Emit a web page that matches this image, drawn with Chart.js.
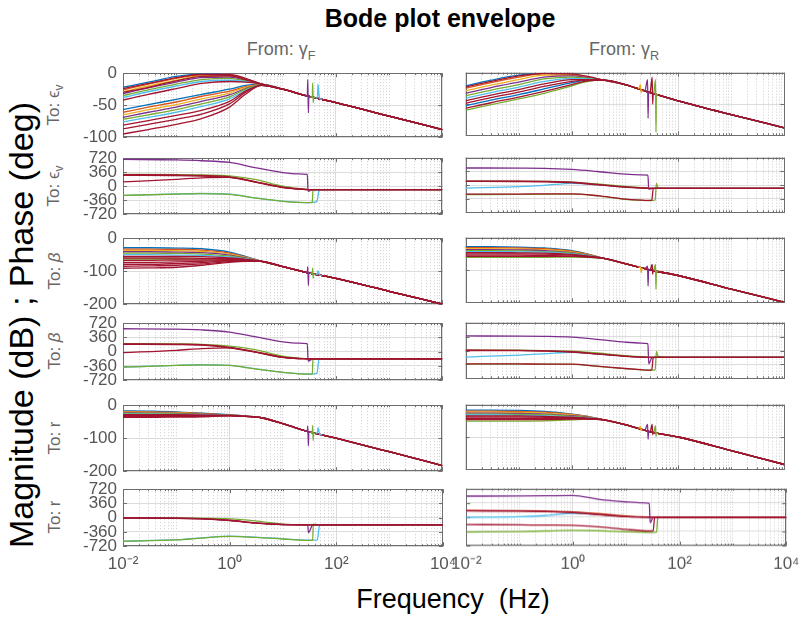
<!DOCTYPE html>
<html>
<head>
<meta charset="utf-8">
<script src="https://cdn.jsdelivr.net/npm/chart.js@4.4.1/dist/chart.umd.min.js"></script>
<style>
  body { margin: 0; width: 804px; height: 624px; position: relative; overflow: hidden; background: #fff;
         font-family: "Liberation Sans", Arial, sans-serif; }
  canvas { position: absolute; }
  .txt { position: absolute; white-space: nowrap; }
  .rot { transform: translate(-50%, -50%) rotate(-90deg); }
  .title { left: 240px; width: 400px; top: 4px; text-align: center; font-weight: bold; font-size: 25px; color: #000; }
  .from { top: 39px; width: 200px; text-align: center; font-size: 18px; color: #666; }
  .to { font-size: 17px; color: #666; }
  sub { font-size: 70%; }
</style>
</head>
<body>
<div class="txt title">Bode plot envelope</div>
<div class="txt from" style="left:181px">From: γ<sub>F</sub></div>
<div class="txt from" style="left:524px">From: γ<sub>R</sub></div>
<div class="txt rot" style="left:21px; top:325px; font-size:34px; color:#000">Magnitude (dB) ; Phase (deg)</div>
<div class="txt" style="left:253px; width:400px; text-align:center; top:584px; font-size:27px; color:#000">Frequency&nbsp;&nbsp;(Hz)</div>
<div class="txt to rot" style="left:55px; top:105px">To: ϵ<sub>v</sub></div>
<div class="txt to rot" style="left:55px; top:186px">To: ϵ<sub>v</sub></div>
<div class="txt to rot" style="left:55px; top:271px">To: <i>β</i></div>
<div class="txt to rot" style="left:55px; top:351px">To: <i>β</i></div>
<div class="txt to rot" style="left:55px; top:438px">To: r</div>
<div class="txt to rot" style="left:55px; top:517px">To: r</div>

<script>
// MATLAB line colours
const colors = { b: '#0072BD', o: '#D95319', y: '#EDB120', p: '#7E2F8E', g: '#77AC30', c: '#4DBEEE', r: '#A2142F' };

// frequency grids (Hz)
const magFreqs = [0.01, 0.03, 0.1, 0.3, 1, 2, 4];
const magTailFreqs = [10, 30, 100, 1000, 10000];
const phaseFreqsF = [0.01, 0.1, 0.3, 1, 3, 10, 20, 29, 30, 36, 37, 44, 48, 52, 100, 10000];
const phaseFreqsR = [0.01, 0.1, 0.3, 1, 3, 10, 20, 27, 28, 32, 34, 37, 39, 42, 100, 10000];
const spikeFreqsF = [[26, 29, 29.6, 30.4, 31, 34], [33, 36, 36.6, 37.4, 38, 41], [42, 45, 46, 47.5, 50, 55]];
const spikeFreqsR = [[18, 19.6, 20.2, 21], [24, 26.6, 27.2, 27.8, 30], [30, 32.5, 33.2, 34, 36], [35, 37.5, 38.3, 39, 42]];
const spikeColorsF = ['p', 'g', 'c'];
const spikeColorsR = ['y', 'p', 'r', 'g'];

// axis ticks
const freqLabelTicks = [0.01, 1, 100, 10000];
const freqTickLabels = ['10⁻²', '10⁰', '10²', '10⁴'];
const magTicksEv = [-100, -50, 0];
const magTicks = [-200, -100, 0];
const phaseTicks = [-720, -360, 0, 360, 720];

// ---- To: eps_v ----
const magEvFColors = ['b', 'o', 'y', 'p', 'g', 'c', 'b', 'o', 'y', 'p', 'g', 'c', 'r', 'r', 'r', 'r', 'r', 'r'];
const magEvF = [
  [-22, -14, -5, -1, -3, -9, -17],
  [-26, -17, -8, -2, -3, -9, -17],
  [-29, -20, -11, -4, -4, -10, -17],
  [-32, -23, -14, -7, -6, -11, -17],
  [-35, -26, -17, -10, -8, -12, -17],
  [-38, -29, -20, -13, -11, -13, -17],
  [-57, -49, -41, -33, -25, -19, -17],
  [-61, -53, -45, -36, -28, -21, -18],
  [-65, -57, -49, -40, -31, -22, -18],
  [-69, -61, -53, -44, -34, -24, -18],
  [-72, -65, -57, -48, -37, -25, -18],
  [-76, -69, -61, -52, -40, -27, -19],
  [-24, -16, -7, -2, -2, -8, -17],
  [-30, -22, -12, -5, -4, -10, -17],
  [-42, -33, -24, -16, -13, -14, -17],
  [-81, -74, -66, -58, -44, -28, -19],
  [-87, -80, -72, -64, -48, -30, -19],
  [-95, -88, -80, -71, -53, -33, -19]
];
const magEvFTail = [-25, -36, -46, -67, -88];
const magEvFSpikes = [
  [-35, -36, -10, -62, -36, -37],
  [-37, -37.5, -15, -46, -38, -38.6],
  [-38.8, -37, -17, -30, -40, -41]
];

const magEvRColors = ['b', 'o', 'y', 'p', 'g', 'c', 'b', 'g', 'r', 'r', 'r', 'r'];
const magEvR = [
  [-21, -12, -4, -1, -3, -7, -12],
  [-25, -16, -7, -2, -3, -7, -12],
  [-29, -20, -11, -4, -4, -8, -12],
  [-33, -24, -15, -7, -5, -8, -12],
  [-37, -28, -19, -10, -7, -9, -12],
  [-41, -32, -23, -14, -9, -10, -12],
  [-53, -44, -35, -26, -16, -12, -12],
  [-60, -51, -42, -33, -21, -14, -12],
  [-23, -14, -5, -1, -2, -6, -12],
  [-45, -36, -27, -18, -11, -11, -12],
  [-49, -40, -31, -22, -14, -12, -12],
  [-57, -48, -39, -30, -19, -13, -12]
];
const magEvRTail = [-19, -32, -45, -67, -88];
const magEvRSpikes = [
  [-26, -19, -32, -28],
  [-29.5, -11, -73, -31, -32],
  [-32, -7, -50, -33.3, -34],
  [-33.7, -11, -95, -35, -35.7]
];

const phEvFColors = ['c', 'g', 'p', 'g', 'r', 'r', 'r'];
const phEvF = [
  [-235, -200, -188, -205, -300, -385, -415, -420, -420, -418, -415, -390, -120, -95, -90, -90],
  [-238, -203, -190, -208, -302, -388, -418, -422, -422, -420, -100, -92, -90, -90, -90, -90],
  [690, 675, 655, 610, 480, 350, 315, 305, -130, -92, -90, -90, -90, -90, -90, -90],
  [305, 298, 288, 265, 175, 0, -60, -82, -86, -90, -90, -90, -90, -90, -90, -90],
  [110, 175, 215, 226, 112, -28, -72, -86, -88, -90, -90, -90, -90, -90, -90, -90],
  [280, 272, 258, 228, 105, -35, -75, -87, -89, -90, -90, -90, -90, -90, -90, -90],
  [300, 290, 275, 240, 120, -25, -70, -85, -88, -90, -90, -90, -90, -90, -90, -90]
];

const phEvRColors = ['c', 'g', 'p', 'g', 'r', 'r', 'r'];
const phEvR = [
  [-80, -45, -10, 45, 10, -52, -76, -86, -88, -90, -90, -90, -90, -90, -90, -90],
  [-250, -248, -245, -240, -285, -375, -402, -410, -410, -408, -405, -395, 45, -80, -90, -90],
  [448, 445, 440, 410, 355, 285, 268, 262, -110, -92, -90, -90, -90, -90, -90, -90],
  [100, 98, 94, 78, 30, -40, -72, -84, -86, -90, -90, -90, -90, -90, -90, -90],
  [-240, -238, -235, -232, -280, -370, -398, -405, -405, -400, -95, -90, -90, -90, -90, -90],
  [95, 92, 86, 62, 5, -58, -78, -86, -88, -90, -90, -90, -90, -90, -90, -90],
  [104, 100, 95, 72, 15, -50, -75, -85, -87, -90, -90, -90, -90, -90, -90, -90]
];

// ---- To: beta ----
const magBetaFColors = ['b', 'o', 'y', 'p', 'g', 'c', 'g', 'r', 'r', 'r', 'r', 'r', 'r', 'r'];
const magBetaF = [
  [-29, -29, -30, -32, -42, -55, -70],
  [-33, -33, -34, -36, -45, -57, -70],
  [-37, -37, -38, -40, -48, -58, -70],
  [-41, -41, -42, -44, -51, -60, -70],
  [-45, -45, -46, -48, -54, -62, -70],
  [-50, -50, -51, -52, -57, -63, -70],
  [-63, -63, -63, -63, -63, -66, -70],
  [-55, -55, -55, -56, -60, -64, -70],
  [-60, -60, -60, -61, -62, -65, -70],
  [-67, -67, -66, -66, -65, -67, -70],
  [-73, -73, -72, -70, -67, -68, -70],
  [-79, -79, -77, -74, -69, -69, -70],
  [-85, -84, -82, -78, -71, -69, -70],
  [-91, -90, -88, -82, -73, -70, -70]
];
const magBetaFTail = [-86, -105, -122, -161, -200];
const magBetaFSpikes = [
  [-103, -104.5, -86, -143, -105.5, -107],
  [-106.3, -107.6, -91, -122, -108.3, -109.4],
  [-109.8, -110, -98, -104, -112.2, -113.5]
];

const magBetaRColors = ['b', 'o', 'y', 'p', 'g', 'c', 'g', 'r', 'r', 'r', 'r'];
const magBetaR = [
  [-28, -28, -29, -32, -40, -51, -64],
  [-31, -31, -32, -34, -42, -52, -64],
  [-34, -34, -35, -37, -44, -53, -64],
  [-37, -37, -38, -40, -46, -54, -64],
  [-40, -40, -41, -43, -48, -55, -64],
  [-43, -43, -44, -45, -50, -56, -64],
  [-61, -61, -61, -61, -60, -61, -64],
  [-46, -46, -47, -48, -52, -57, -64],
  [-50, -50, -50, -51, -54, -58, -64],
  [-54, -54, -54, -55, -57, -59, -64],
  [-58, -58, -58, -58, -58, -60, -64]
];
const magBetaRTail = [-80, -100, -117, -159, -200];
const magBetaRSpikes = [
  [-90.7, -93, -108, -93.5],
  [-96, -88, -150, -98.8, -100],
  [-100, -83, -113, -101.8, -102.6],
  [-102.2, -83, -160, -103.7, -104.7]
];

const phBetaFColors = ['c', 'g', 'p', 'g', 'r', 'r', 'r'];
const phBetaF = [
  [-390, -345, -330, -345, -430, -520, -555, -563, -563, -562, -560, -540, -200, -182, -180, -180],
  [-392, -347, -332, -348, -433, -523, -558, -566, -566, -565, -200, -182, -180, -180, -180, -180],
  [580, 570, 550, 495, 380, 250, 215, 205, -235, -185, -180, -180, -180, -180, -180, -180],
  [205, 197, 186, 140, 50, -115, -165, -177, -178, -180, -180, -180, -180, -180, -180, -180],
  [-25, 35, 80, 98, -5, -142, -173, -178, -179, -180, -180, -180, -180, -180, -180, -180],
  [185, 178, 165, 100, -10, -145, -174, -179, -180, -180, -180, -180, -180, -180, -180, -180],
  [200, 190, 175, 110, 0, -140, -172, -178, -179, -180, -180, -180, -180, -180, -180, -180]
];

const phBetaRColors = ['c', 'g', 'p', 'g', 'r', 'r', 'r'];
const phBetaR = [
  [-170, -120, -85, -45, -85, -145, -170, -176, -178, -180, -180, -180, -180, -180, -180, -180],
  [-350, -352, -355, -358, -410, -470, -500, -510, -510, -508, -505, -500, -25, -150, -180, -180],
  [376, 372, 365, 344, 290, 215, 192, 178, -345, -190, -180, -180, -180, -180, -180, -180],
  [10, 6, -2, -20, -65, -135, -165, -175, -178, -180, -180, -180, -180, -180, -180, -180],
  [-345, -348, -350, -352, -405, -465, -495, -505, -505, -500, -190, -180, -180, -180, -180, -180],
  [0, -5, -15, -40, -92, -150, -172, -177, -179, -180, -180, -180, -180, -180, -180, -180],
  [8, 2, -8, -32, -85, -145, -170, -176, -178, -180, -180, -180, -180, -180, -180, -180]
];

// ---- To: r ----
const magRFColors = ['b', 'o', 'y', 'p', 'g', 'c', 'r', 'r', 'r', 'r'];
const magRF = [
  [-17, -18, -20, -24, -29, -33, -38],
  [-19, -20, -22, -25, -30, -33, -38],
  [-21, -22, -23, -26, -30, -33, -38],
  [-23, -24, -25, -27, -30, -33, -38],
  [-25, -25, -26, -28, -30, -33, -38],
  [-27, -27, -28, -29, -31, -34, -38],
  [-29, -29, -29, -30, -31, -34, -38],
  [-31, -31, -31, -31, -31, -34, -38],
  [-34, -34, -34, -33, -32, -34, -38],
  [-37, -37, -36, -35, -32, -34, -38]
];
const magRFTail = [-56, -80, -100, -141, -183];
const magRFSpikes = [
  [-78, -79.4, -63, -123, -80.5, -82],
  [-81.6, -83, -62, -107, -84, -85.2],
  [-85.6, -82, -68, -76, -88.4, -90]
];

const magRRColors = ['b', 'o', 'y', 'p', 'g', 'c', 'g', 'r', 'r', 'r', 'r'];
const magRR = [
  [-17, -17, -18, -21, -29, -36, -47],
  [-20, -20, -21, -23, -30, -37, -47],
  [-23, -23, -24, -26, -32, -38, -47],
  [-26, -26, -27, -29, -34, -39, -47],
  [-29, -29, -30, -31, -36, -40, -47],
  [-32, -32, -33, -34, -38, -41, -47],
  [-51, -51, -51, -50, -47, -45, -47],
  [-35, -35, -35, -36, -39, -42, -47],
  [-38, -38, -38, -39, -41, -43, -47],
  [-42, -42, -42, -42, -43, -44, -47],
  [-46, -46, -46, -46, -45, -45, -47]
];
const magRRTail = [-62, -84, -100, -142, -185];
const magRRSpikes = [
  [-73.7, -68, -80, -77],
  [-79.5, -61, -107, -82.5, -84],
  [-84, -61, -93, -85.7, -86.4],
  [-86, -66, -98, -87.5, -88.5]
];

const phRFColors = ['c', 'g', 'g', 'p', 'r', 'r'];
const phRF = [
  [-593, -555, -510, -466, -490, -534, -560, -570, -570, -570, -568, -560, -220, -185, -180, -180],
  [-596, -560, -515, -470, -495, -538, -563, -572, -572, -572, -165, -176, -180, -180, -180, -180],
  [-2, -4, -9, -30, -80, -160, -176, -179, -180, -180, -180, -180, -180, -180, -180, -180],
  [-6, -13, -28, -68, -133, -173, -178, -180, -380, -182, -180, -180, -180, -180, -180, -180],
  [-8, -15, -30, -72, -138, -175, -179, -180, -180, -180, -180, -180, -180, -180, -180, -180],
  [-5, -12, -25, -65, -130, -172, -178, -180, -180, -180, -180, -180, -180, -180, -180, -180]
];

const phRRColors = ['c', 'g', 'p', 'o', 'r', 'r', 'r'];
const phRR = [
  [-5, 10, 40, 95, 68, 16, 3, 0, 0, 0, 0, 0, 0, 0, 0, 0],
  [-376, -365, -350, -335, -343, -368, -380, -385, -385, -385, -383, -380, 20, 0, 0, 0],
  [532, 535, 540, 548, 450, 385, 362, 352, -140, -5, 0, 0, 0, 0, 0, 0],
  [168, 164, 155, 135, 95, 30, 8, 2, 0, 0, 0, 0, 0, 0, 0, 0],
  [-188, -195, -200, -205, -245, -310, -343, -350, -350, -345, 0, 0, 0, 0, 0, 0],
  [158, 150, 140, 115, 65, 12, 2, 0, 0, 0, 0, 0, 0, 0, 0, 0],
  [164, 158, 148, 123, 72, 18, 4, 1, 0, 0, 0, 0, 0, 0, 0, 0]
];

// plot areas of the 6x2 grid
const colLeft = [123, 466];
const plotWidth = 320;
const rowTop = [73, 158, 238, 323, 405, 489];
const rowHeight = [64, 56, 66, 57, 66, 57];

function curve(fs, vs, col, order) {
  return {
    data: fs.map((f, i) => ({ x: f, y: vs[i] })),
    borderColor: colors[col],
    borderWidth: 1.3,
    pointRadius: 0,
    cubicInterpolationMode: 'monotone',
    order: order
  };
}

function magSets(rows, cols, tail, spikes, spikeFs, spikeCols) {
  const sets = rows.map((r, i) => curve(magFreqs.concat(magTailFreqs), r.concat(tail), cols[i], -i));
  spikes.forEach((s, i) => sets.push(curve(spikeFs[i], s, spikeCols[i], -100 - i)));
  return sets;
}

function phaseSets(rows, cols, fs) {
  return rows.map((r, i) => curve(fs, r, cols[i], -i));
}

// log-decade grid positions: 1..9 x 10^k
const freqGrid = [];
for (let k = -2; k <= 3; k++) {
  for (let m = 1; m <= 9; m++) freqGrid.push(m * Math.pow(10, k));
}
freqGrid.push(10000);

// box with inward tick marks, drawn under the curves
const boxPlugin = {
  id: 'box',
  beforeDatasetsDraw(chart) {
    const { ctx, chartArea: a } = chart;
    const xs = chart.scales.x, ys = chart.scales.y;
    ctx.save();
    ctx.strokeStyle = '#6e6e6e';
    ctx.lineWidth = 1;
    ctx.beginPath();
    xs.ticks.forEach(t => {
      const px = Math.round(xs.getPixelForValue(t.value)) + 0.5;
      const len = t.major ? 4 : 2;
      ctx.moveTo(px, a.top); ctx.lineTo(px, a.top + len);
      ctx.moveTo(px, a.bottom); ctx.lineTo(px, a.bottom - len);
    });
    ys.ticks.forEach(t => {
      const py = Math.round(ys.getPixelForValue(t.value)) + 0.5;
      ctx.moveTo(a.left, py); ctx.lineTo(a.left + 4, py);
      ctx.moveTo(a.right, py); ctx.lineTo(a.right - 4, py);
    });
    ctx.stroke();
    ctx.strokeRect(Math.round(a.left) + 0.5, Math.round(a.top) + 0.5, Math.round(a.width) - 1, Math.round(a.height) - 1);
    ctx.restore();
  }
};

function makePanel(row, col, datasets, yMin, yMax, yTicks) {
  const canvas = document.createElement('canvas');
  canvas.width = plotWidth + 80;
  canvas.height = rowHeight[row] + 50;
  document.body.appendChild(canvas);
  const showY = col === 0;
  const showX = row === 5;
  const tickFont = { family: 'Liberation Sans', size: 17 };

  const chart = new Chart(canvas, {
    type: 'line',
    data: { datasets: datasets },
    options: {
      responsive: false,
      maintainAspectRatio: false,
      animation: false,
      events: [],
      layout: { padding: 0 },
      plugins: { legend: { display: false }, tooltip: { enabled: false } },
      scales: {
        x: {
          type: 'logarithmic',
          min: 0.01,
          max: 10000,
          afterBuildTicks: ax => {
            ax.ticks = freqGrid.map(v => ({ value: v, major: freqLabelTicks.some(f => Math.abs(f - v) < 1e-9) }));
          },
          ticks: {
            display: showX,
            autoSkip: false,
            maxRotation: 0,
            minRotation: 0,
            padding: 8,
            color: '#555',
            font: tickFont,
            callback: v => {
              const i = freqLabelTicks.findIndex(f => Math.abs(f - v) < 1e-9);
              return i >= 0 ? freqTickLabels[i] : '';
            }
          },
          grid: {
            drawTicks: false,
            color: c => (c.tick && c.tick.major) ? '#dcdcdc' : '#cdcdcd',
            lineWidth: 1
          },
          border: { display: false, dash: c => (c.tick && c.tick.major) ? [] : [1, 2] }
        },
        y: {
          min: yMin,
          max: yMax,
          afterBuildTicks: ax => { ax.ticks = yTicks.map(v => ({ value: v })); },
          ticks: { display: showY, autoSkip: false, padding: 6, color: '#555', font: tickFont },
          grid: { drawTicks: false, color: '#dcdcdc', lineWidth: 1 },
          border: { display: false }
        }
      }
    },
    plugins: [boxPlugin]
  });

  // size the canvas so its plot area lands on the grid cell
  let a = chart.chartArea;
  chart.resize(chart.width + plotWidth - (a.right - a.left), chart.height + rowHeight[row] - (a.bottom - a.top));
  a = chart.chartArea;
  canvas.style.left = (colLeft[col] - a.left) + 'px';
  canvas.style.top = (rowTop[row] - a.top) + 'px';
  return chart;
}

// row 1-2: To eps_v
makePanel(0, 0, magSets(magEvF, magEvFColors, magEvFTail, magEvFSpikes, spikeFreqsF, spikeColorsF), -100, 0, magTicksEv);
makePanel(0, 1, magSets(magEvR, magEvRColors, magEvRTail, magEvRSpikes, spikeFreqsR, spikeColorsR), -100, 0, magTicksEv);
makePanel(1, 0, phaseSets(phEvF, phEvFColors, phaseFreqsF), -720, 720, phaseTicks);
makePanel(1, 1, phaseSets(phEvR, phEvRColors, phaseFreqsR), -720, 720, phaseTicks);
// row 3-4: To beta
makePanel(2, 0, magSets(magBetaF, magBetaFColors, magBetaFTail, magBetaFSpikes, spikeFreqsF, spikeColorsF), -200, 0, magTicks);
makePanel(2, 1, magSets(magBetaR, magBetaRColors, magBetaRTail, magBetaRSpikes, spikeFreqsR, spikeColorsR), -200, 0, magTicks);
makePanel(3, 0, phaseSets(phBetaF, phBetaFColors, phaseFreqsF), -720, 720, phaseTicks);
makePanel(3, 1, phaseSets(phBetaR, phBetaRColors, phaseFreqsR), -720, 720, phaseTicks);
// row 5-6: To r
makePanel(4, 0, magSets(magRF, magRFColors, magRFTail, magRFSpikes, spikeFreqsF, spikeColorsF), -200, 0, magTicks);
makePanel(4, 1, magSets(magRR, magRRColors, magRRTail, magRRSpikes, spikeFreqsR, spikeColorsR), -200, 0, magTicks);
makePanel(5, 0, phaseSets(phRF, phRFColors, phaseFreqsF), -720, 720, phaseTicks);
makePanel(5, 1, phaseSets(phRR, phRRColors, phaseFreqsR), -720, 720, phaseTicks);
</script>
</body>
</html>
